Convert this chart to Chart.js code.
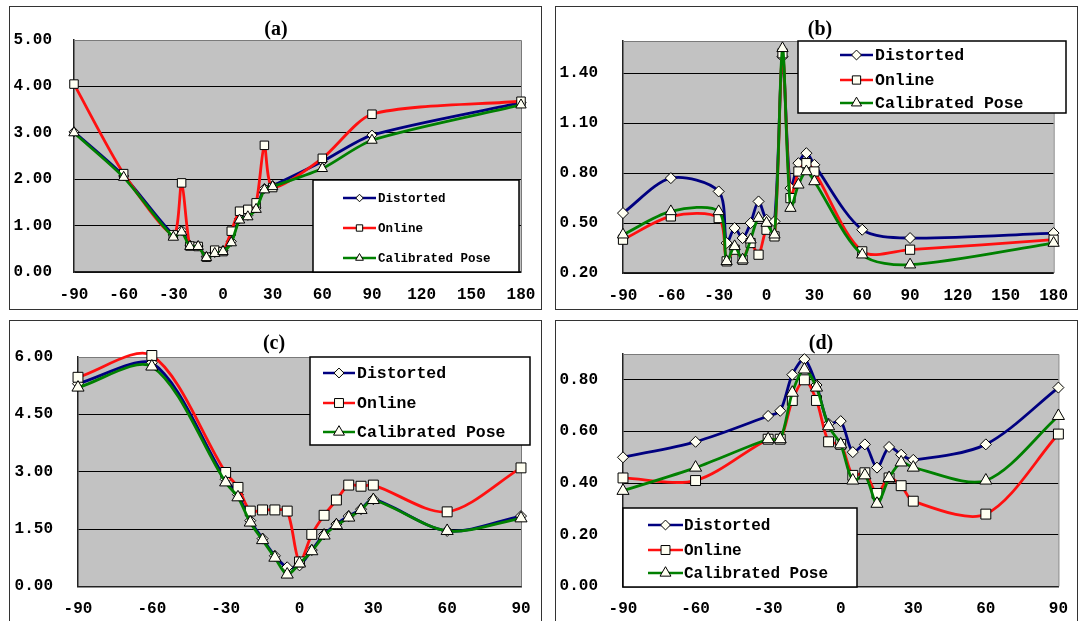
<!DOCTYPE html>
<html><head><meta charset="utf-8">
<script src="https://cdn.jsdelivr.net/npm/chart.js@4.4.1/dist/chart.umd.min.js"></script>
<style>
html,body{margin:0;padding:0;background:#fff;width:1081px;height:621px;overflow:hidden;position:relative}
.panel{position:absolute;border:1.5px solid #333;box-sizing:border-box}
canvas{position:absolute;left:0;top:0}
.ttl{position:absolute;font:bold 20px "Liberation Serif",serif;width:40px;text-align:center;line-height:20px;color:#000}
</style></head><body>
<div class="panel" style="left:9px;top:6px;width:533px;height:304px"></div>
<div class="panel" style="left:555px;top:6px;width:523px;height:304px"></div>
<div class="panel" style="left:9px;top:320px;width:533px;height:310px"></div>
<div class="panel" style="left:555px;top:320px;width:523px;height:310px"></div>
<canvas id="ca" width="1081" height="621"></canvas>
<canvas id="cb" width="1081" height="621"></canvas>
<canvas id="cc" width="1081" height="621"></canvas>
<canvas id="cd" width="1081" height="621"></canvas>
<div class="ttl" style="left:256px;top:18px">(a)</div>
<div class="ttl" style="left:800px;top:18px">(b)</div>
<div class="ttl" style="left:254px;top:332px">(c)</div>
<div class="ttl" style="left:801px;top:332px">(d)</div>
<script>
// ---------- data ----------
const seriesNames = ['Distorted', 'Online', 'Calibrated Pose'];

// panel (a)
const xA = [-90,-60,-30,-25,-20,-15,-10,-5,0,5,10,15,20,25,30,60,90,180];
const distortedA = [3.02,2.07,0.80,0.90,0.58,0.56,0.33,0.42,0.46,0.66,1.15,1.22,1.38,1.80,1.86,2.38,2.95,3.65];
const onlineA    = [4.05,2.12,0.80,1.92,0.56,0.55,0.32,0.47,0.44,0.88,1.31,1.35,1.49,2.73,1.82,2.45,3.40,3.68];
const calibA     = [3.00,2.04,0.75,0.86,0.55,0.55,0.31,0.40,0.44,0.63,1.12,1.19,1.35,1.77,1.84,2.23,2.84,3.60];
const xTicksA = [-90,-60,-30,0,30,60,90,120,150,180];
const yTicksA = [0,1,2,3,4,5];

// panel (b)
const xB = [-90,-60,-30,-25,-20,-15,-10,-5,0,5,10,15,20,25,30,60,90,180];
const distortedB = [0.56,0.77,0.69,0.38,0.47,0.41,0.50,0.63,0.52,0.51,1.50,0.71,0.86,0.92,0.85,0.46,0.41,0.44];
const onlineB    = [0.40,0.54,0.53,0.27,0.34,0.28,0.38,0.31,0.46,0.42,1.52,0.65,0.81,0.86,0.81,0.33,0.34,0.40];
const calibB     = [0.43,0.57,0.57,0.27,0.36,0.28,0.40,0.53,0.50,0.43,1.55,0.59,0.73,0.81,0.75,0.31,0.25,0.38];
const xTicksB = [-90,-60,-30,0,30,60,90,120,150,180];
const yTicksB = [0.2,0.5,0.8,1.1,1.4];

// panel (c)
const xC = [-90,-60,-30,-25,-20,-15,-10,-5,0,5,10,15,20,25,30,60,90];
const distortedC = [5.30,5.85,2.80,2.40,1.72,1.25,0.80,0.50,0.55,0.95,1.36,1.63,1.84,2.02,2.28,1.45,1.84];
const onlineC    = [5.47,6.04,2.98,2.59,1.97,2.00,2.00,1.97,0.64,1.36,1.86,2.26,2.65,2.62,2.65,1.95,3.10];
const calibC     = [5.20,5.75,2.72,2.33,1.67,1.21,0.75,0.31,0.60,0.92,1.33,1.60,1.80,2.00,2.26,1.45,1.78];
const xTicksC = [-90,-60,-30,0,30,60,90];
const yTicksC = [0,1.5,3,4.5,6];

// panel (d)
const xD = [-90,-60,-30,-25,-20,-15,-10,-5,0,5,10,15,20,25,30,60,90];
const distortedD = [0.50,0.56,0.66,0.68,0.82,0.88,0.78,0.63,0.64,0.52,0.55,0.46,0.54,0.51,0.49,0.55,0.77];
const onlineD    = [0.42,0.41,0.57,0.57,0.72,0.80,0.72,0.56,0.55,0.43,0.44,0.36,0.42,0.39,0.33,0.28,0.59];
const calibD     = [0.37,0.46,0.57,0.57,0.75,0.84,0.77,0.62,0.55,0.41,0.43,0.32,0.42,0.48,0.46,0.41,0.66];
const xTicksD = [-90,-60,-30,0,30,60,90];
const yTicksD = [0,0.2,0.4,0.6,0.8];

// ---------- styling ----------
const COLORS = ['#000080', '#ff1010', '#008000'];
const STYLES = ['rectRot', 'rect', 'triangle'];
const TICK_FONT = {family: '"Liberation Mono", monospace', size: 16, weight: 'bold'};

const plotBg = {
  id: 'plotBg',
  beforeDraw(chart) {
    const a = chart.chartArea, ctx = chart.ctx;
    ctx.save();
    ctx.fillStyle = '#c2c2c2';
    ctx.fillRect(a.left, a.top, a.right - a.left, a.bottom - a.top);
    ctx.restore();
  },
  beforeDatasetsDraw(chart) {
    const a = chart.chartArea, ctx = chart.ctx;
    ctx.save();
    ctx.strokeStyle = '#7a7a7a'; ctx.lineWidth = 1;
    ctx.beginPath();
    ctx.moveTo(a.left, a.top + 0.5); ctx.lineTo(a.right + 0.5, a.top + 0.5); ctx.lineTo(a.right + 0.5, a.bottom);
    ctx.stroke();
    ctx.restore();
  }
};

const boxLegend = {
  id: 'boxLegend',
  afterDatasetsDraw(chart, args, o) {
    const ctx = chart.ctx;
    ctx.save();
    ctx.fillStyle = '#fff'; ctx.strokeStyle = '#000'; ctx.lineWidth = 1.5;
    ctx.fillRect(o.x1, o.y1, o.x2 - o.x1, o.y2 - o.y1);
    ctx.strokeRect(o.x1, o.y1, o.x2 - o.x1, o.y2 - o.y1);
    ctx.font = o.font; ctx.textBaseline = 'middle'; ctx.textAlign = 'left';
    const order = [0, 1, 2];
    order.forEach((i, k) => {
      const ds = chart.data.datasets[i];
      const y = o.rows[k];
      ctx.strokeStyle = ds.borderColor; ctx.lineWidth = 2.5;
      ctx.beginPath(); ctx.moveTo(o.lx1, y); ctx.lineTo(o.lx2, y); ctx.stroke();
      ctx.fillStyle = ds.pointBackgroundColor; ctx.strokeStyle = '#000'; ctx.lineWidth = 1;
      Chart.helpers.drawPoint(ctx, {pointStyle: ds.pointStyle, radius: ds.pointRadius * o.ms, borderWidth: 1, rotation: 0}, (o.lx1 + o.lx2) / 2, y);
      ctx.fillStyle = '#000';
      ctx.fillText(ds.label, o.tx, y + 1);
    });
    ctx.restore();
  }
};

function makeDs(i, xs, ys, radius, tension) {
  return {
    label: seriesNames[i],
    data: xs.map((x, k) => ({x: x, y: ys[k]})),
    borderColor: COLORS[i], backgroundColor: COLORS[i],
    borderWidth: 2.8, pointStyle: STYLES[i],
    pointRadius: radius[i], pointBackgroundColor: '#fffff2',
    pointBorderColor: '#000', pointBorderWidth: 1,
    tension: tension, clip: false, order: 3 - i, fill: false
  };
}

function makeChart(id, c) {
  const yw = c.area.l - 6, xh = 30;
  new Chart(document.getElementById(id), {
    type: 'line',
    data: {datasets: [
      makeDs(0, c.xs, c.s[0], c.radius, c.tension),
      makeDs(1, c.xs, c.s[1], c.radius, c.tension),
      makeDs(2, c.xs, c.s[2], c.radius, c.tension)
    ]},
    options: {
      responsive: false, animation: false, devicePixelRatio: 1,
      events: [],
      layout: {padding: {left: 6, top: c.area.t, right: 1081 - c.area.r, bottom: 621 - c.area.b - xh}},
      plugins: {
        legend: {display: false}, tooltip: {enabled: false}, title: {display: false},
        boxLegend: c.legend
      },
      scales: {
        x: {
          type: 'linear', min: c.xMin, max: c.xMax,
          afterBuildTicks: s => { s.ticks = c.xTicks.map(v => ({value: v})); },
          afterFit: s => { s.height = xh; },
          ticks: {font: TICK_FONT, color: '#000', padding: 13, maxRotation: 0, autoSkip: false,
                  callback: v => String(v)},
          grid: {display: false, drawTicks: false, tickLength: 0},
          border: {display: true, color: '#222', width: 1.5}
        },
        y: {
          type: 'linear', min: c.yMin, max: c.yMax,
          afterBuildTicks: s => { s.ticks = c.yTicks.map(v => ({value: v})); },
          afterFit: s => { s.width = yw; },
          ticks: {font: TICK_FONT, color: '#000', padding: c.ypad, autoSkip: false,
                  callback: v => Number(v).toFixed(2)},
          grid: {drawTicks: false, tickLength: 0, lineWidth: 1,
                 color: ctx => (ctx.tick && Math.abs(ctx.tick.value - c.yMax) < 1e-9) ? 'rgba(0,0,0,0)' : '#000'},
          border: {display: true, color: '#222', width: 1.5}
        }
      }
    },
    plugins: [plotBg, boxLegend]
  });
}

makeChart('ca', {
  xs: xA, s: [distortedA, onlineA, calibA], xMin: -90, xMax: 180, yMin: 0, yMax: 5,
  xTicks: xTicksA, yTicks: yTicksA, area: {l: 74, r: 521, t: 40, b: 272}, ypad: 22,
  radius: [5, 6, 6], tension: 0.25,
  legend: {x1: 313, y1: 180, x2: 519, y2: 272, rows: [198, 228, 258], lx1: 343, lx2: 376, tx: 378,
           font: 'bold 12.5px "Liberation Mono", monospace', ms: 0.75}
});
makeChart('cb', {
  xs: xB, s: [distortedB, onlineB, calibB], xMin: -90, xMax: 180, yMin: 0.2, yMax: 1.594,
  xTicks: xTicksB, yTicks: yTicksB, area: {l: 623, r: 1065, t: 41, b: 273}, ypad: 25,
  radius: [5.5, 6.5, 6.5], tension: 0.3,
  legend: {x1: 798, y1: 41, x2: 1066, y2: 113, rows: [55, 80, 103], lx1: 840, lx2: 873, tx: 875,
           font: 'bold 16.5px "Liberation Mono", monospace', ms: 0.9}
});
makeChart('cc', {
  xs: xC, s: [distortedC, onlineC, calibC], xMin: -90, xMax: 90, yMin: 0, yMax: 6,
  xTicks: xTicksC, yTicks: yTicksC, area: {l: 78, r: 521, t: 357, b: 587}, ypad: 25,
  radius: [5.5, 7, 7], tension: 0.3,
  legend: {x1: 310, y1: 357, x2: 530, y2: 445, rows: [373, 403, 432], lx1: 323, lx2: 355, tx: 357,
           font: 'bold 16.5px "Liberation Mono", monospace', ms: 0.9}
});
makeChart('cd', {
  xs: xD, s: [distortedD, onlineD, calibD], xMin: -90, xMax: 90, yMin: 0, yMax: 0.9,
  xTicks: xTicksD, yTicks: yTicksD, area: {l: 623, r: 1065, t: 354, b: 587}, ypad: 25,
  radius: [5.5, 7, 7], tension: 0.3,
  legend: {x1: 623, y1: 508, x2: 857, y2: 587, rows: [525, 550, 573], lx1: 648, lx2: 683, tx: 684,
           font: 'bold 16px "Liberation Mono", monospace', ms: 0.9}
});
</script>
</body></html>
